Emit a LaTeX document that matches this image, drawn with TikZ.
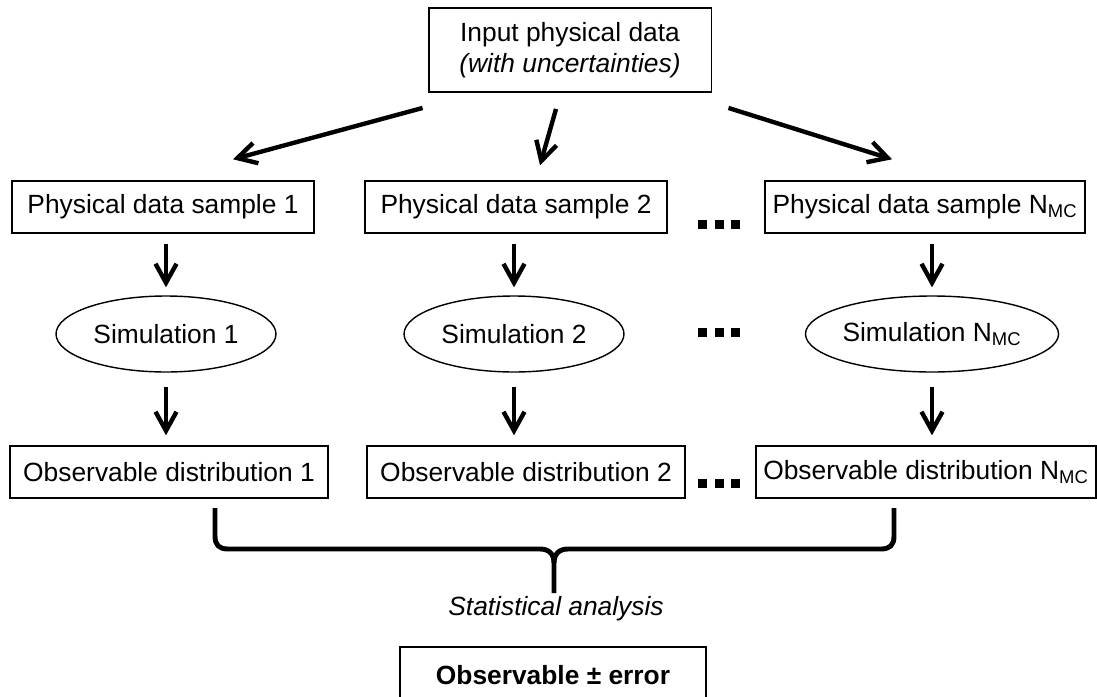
\documentclass[tikz,border=0pt]{standalone}
\usepackage{fontspec}
\setmainfont{Liberation Sans}
\usetikzlibrary{arrows.meta}
\usetikzlibrary{shapes.geometric}

\begin{document}
\begin{tikzpicture}[x=0.02cm, y=-0.02cm, font=\fontsize{15}{18}\selectfont,
  box/.style={draw, line width=1.1pt, inner xsep=0.15cm, minimum height=1.03cm},
  simbox/.style={draw, ellipse, line width=0.8pt, minimum width=4.4cm, minimum height=1.52cm, inner sep=0},
  flow/.style={line width=2.5pt, -{Straight Barb[length=0.38cm,width=0.42cm]}},
  brace/.style={line width=2.8pt, line join=round}]
\useasboundingbox (0,0) rectangle (1097,696);
\node[box, minimum width=5.66cm, minimum height=1.68cm, align=center] (In) at (570,50)
  {Input physical data\\\textit{(with uncertainties)}};
\foreach \i/\xa/\xe/\xb/\lab in {1/163/166/169/1, 2/516/514/526/2, 3/925/932/926/N\textsubscript{MC}} {
 \node[box, minimum width=6.04cm] (A\i) at (\xa,207) {Physical data sample \lab};
 \node[simbox] (E\i) at (\xe,334) {Simulation \lab};
 \node[box, minimum width=6.36cm] (B\i) at (\xb,472) {Observable distribution \lab};
 \draw[flow, shorten <=0.2cm, shorten >=0.16cm] (E\i.north |- A\i.south) -- (E\i.north);
 \draw[flow, shorten <=0.28cm, shorten >=0.2cm] (E\i.south) -- (E\i.south |- B\i.north);
}
\draw[flow] ([shift={(-5,15)}]In.south west) -- ([shift={(70,-21)}]A1.north);
\draw[flow] ([shift={(-14,16)}]In.south) -- ([shift={(24,-15)}]A2.north);
\draw[flow] ([shift={(16,15)}]In.south east) -- ([shift={(-33,-21)}]A3.north);
\foreach \y in {224,332,483}
 \foreach \dx in {0,16.5,33}
  \fill (698+\dx,\y-4.5) rectangle ++(9,9);
\coordinate (bl) at (215,508);
\coordinate (br) at (894,508);
\coordinate (tip) at (554,593);
\draw[brace] (bl) -- (215,536) .. controls (215,545) and (219,549) .. (228,549) -- (540,549)
  .. controls (549,549) and (554,554) .. (554,563) -- (tip);
\draw[brace] (br) -- (894,536) .. controls (894,545) and (890,549) .. (881,549) -- (568,549)
  .. controls (559,549) and (554,554) .. (554,563);
\node (St) at (556,609) {\textit{Statistical analysis}};
\node[box, minimum width=6.12cm, minimum height=1.12cm] (Res) at (553,675) {\textbf{Observable ± error}};
\end{tikzpicture}
\end{document}
